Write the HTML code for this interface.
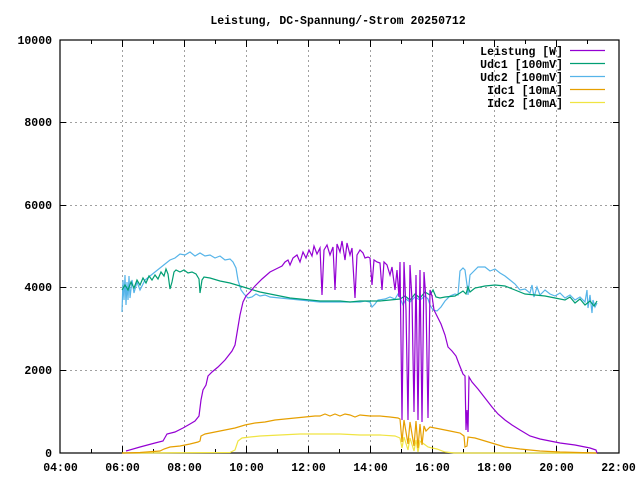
<!DOCTYPE html>
<html><head><meta charset="utf-8"><style>
html,body{margin:0;padding:0;background:#fff;}
svg{display:block;}
text{font-family:"Liberation Mono","DejaVu Sans Mono",monospace;font-size:11.5px;font-weight:bold;fill:#000;}
</style></head><body>
<svg width="640" height="480" viewBox="0 0 640 480" xmlns="http://www.w3.org/2000/svg">
<rect width="640" height="480" fill="#fff"/>
<g stroke="#a0a0a0" stroke-width="1" stroke-dasharray="2,3">
<line x1="122.5" y1="40" x2="122.5" y2="453"/>
<line x1="184.5" y1="40" x2="184.5" y2="453"/>
<line x1="246.5" y1="40" x2="246.5" y2="453"/>
<line x1="308.5" y1="40" x2="308.5" y2="453"/>
<line x1="370.5" y1="40" x2="370.5" y2="453"/>
<line x1="432.5" y1="40" x2="432.5" y2="453"/>
<line x1="494.5" y1="40" x2="494.5" y2="453"/>
<line x1="556.5" y1="40" x2="556.5" y2="453"/>
<line x1="60" y1="370.5" x2="619" y2="370.5"/>
<line x1="60" y1="287.5" x2="619" y2="287.5"/>
<line x1="60" y1="205.5" x2="619" y2="205.5"/>
<line x1="60" y1="122.5" x2="619" y2="122.5"/>
</g>
<g stroke="#000" stroke-width="1">
<path d="M60,370.5h6M60,287.5h6M60,205.5h6M60,122.5h6M619,370.5h-6M619,287.5h-6M619,205.5h-6M619,122.5h-6"/>
<path d="M91.5,453v-4M122.5,453v-7M153.5,453v-4M184.5,453v-7M215.5,453v-4M246.5,453v-7M277.5,453v-4M308.5,453v-7M339.5,453v-4M370.5,453v-7M401.5,453v-4M432.5,453v-7M463.5,453v-4M494.5,453v-7M525.5,453v-4M556.5,453v-7M587.5,453v-4"/>
<path d="M91.5,40v4M122.5,40v7M153.5,40v4M184.5,40v7M215.5,40v4M246.5,40v7M277.5,40v4M308.5,40v7M339.5,40v4M370.5,40v7M401.5,40v4M432.5,40v7M463.5,40v4M494.5,40v7M525.5,40v4M556.5,40v7M587.5,40v4"/>
</g>
<rect x="60" y="40" width="559" height="413" fill="none" stroke="#000" stroke-width="1.2"/>
<text x="338" y="24" text-anchor="middle">Leistung, DC-Spannung/-Strom 20250712</text>
<g text-anchor="end">
<text x="52" y="457">0</text>
<text x="52" y="374">2000</text>
<text x="52" y="291">4000</text>
<text x="52" y="209">6000</text>
<text x="52" y="126">8000</text>
<text x="52" y="44">10000</text>
</g>
<g text-anchor="middle">
<text x="60.5" y="471">04:00</text>
<text x="122.5" y="471">06:00</text>
<text x="184.5" y="471">08:00</text>
<text x="246.5" y="471">10:00</text>
<text x="308.5" y="471">12:00</text>
<text x="370.5" y="471">14:00</text>
<text x="432.5" y="471">16:00</text>
<text x="494.5" y="471">18:00</text>
<text x="556.5" y="471">20:00</text>
<text x="618.5" y="471">22:00</text>
</g>
<g text-anchor="end">
<text x="563" y="55">Leistung [W]</text>
<text x="563" y="68">Udc1 [100mV]</text>
<text x="563" y="81">Udc2 [100mV]</text>
<text x="563" y="94">Idc1 [10mA]</text>
<text x="563" y="107">Idc2 [10mA]</text>
</g>
<g stroke-width="1.2" fill="none">
<line x1="570" y1="50.5" x2="605" y2="50.5" stroke="#9400d3"/>
<line x1="570" y1="63.5" x2="605" y2="63.5" stroke="#009e73"/>
<line x1="570" y1="76.5" x2="605" y2="76.5" stroke="#56b4e9"/>
<line x1="570" y1="89.5" x2="605" y2="89.5" stroke="#e69f00"/>
<line x1="570" y1="102.5" x2="605" y2="102.5" stroke="#f0e442"/>
<path stroke="#f0e442" d="M122,453 L230,452.5 L235,450 L238,441 L242,438 L250,437 L260,436 L280,435 L300,434 L320,434 L340,434 L360,435 L380,435 L395,436 L400,438 L402,448 L404,437 L408,450 L410,438 L414,451 L416,440 L418,452 L420,441 L424,444 L428,447 L432,448 L437,449 L445,452 L455,453 L597,453"/>
<path stroke="#e69f00" d="M122,453 L140,452.5 L160,451 L164,449 L170,447 L180,446 L190,444 L198,442 L200,441 L201,436 L205,434 L215,432 L225,430 L235,428 L245,425 L255,423 L265,422 L275,420 L285,419 L295,418 L305,417 L315,416 L320,416 L325,414 L330,416 L335,414 L340,416 L345,414 L350,415 L355,417 L360,415 L370,416 L380,416 L390,417 L398,418 L400,419 L402,442 L404,420 L408,444 L410,422 L414,446 L416,421 L418,448 L420,424 L422,445 L424,426 L426,431 L430,427 L440,429 L450,431 L460,433 L464,436 L465,447 L467,446 L468,437 L475,438 L485,441 L495,444 L505,447 L520,449 L540,451 L560,452 L597,453"/>
<path stroke="#56b4e9" d="M122,312 L123,280 L124,300 L125,275 L126,305 L127,282 L128,300 L129,276 L130,298 L132,280 L134,293 L137,282 L140,290 L145,280 L150,276 L155,272 L160,268 L165,264 L170,260 L175,258 L180,254 L185,255 L190,252 L195,256 L200,253 L205,256 L210,255 L215,258 L220,256 L225,260 L230,259 L233,262 L236,268 L238,280 L241,290 L244,294 L248,298 L252,297 L256,294 L260,296 L265,295 L270,297 L280,298 L290,299 L300,300 L310,301 L320,302 L330,302 L340,302 L350,302 L360,302 L365,301 L370,302 L372,307 L375,304 L378,300 L385,299 L390,297 L395,299 L398,294 L400,298 L403,305 L406,299 L410,302 L415,297 L420,300 L425,296 L428,299 L430,305 L433,310 L437,311 L441,307 L445,301 L450,296 L455,294 L458,295 L460,271 L463,268 L465,270 L467,285 L468,295 L470,275 L473,272 L478,267 L485,267 L490,271 L495,269 L500,273 L505,276 L510,280 L515,284 L520,290 L525,289 L530,293 L532,285 L534,297 L537,287 L540,295 L545,290 L550,294 L555,296 L560,293 L565,298 L570,295 L575,300 L580,297 L585,302 L587,290 L588,308 L590,295 L592,313 L593,300 L595,307 L597,303"/>
<path stroke="#009e73" d="M122,290 L125,285 L128,290 L131,282 L134,288 L137,280 L140,285 L143,278 L146,283 L149,276 L152,280 L155,275 L158,279 L161,272 L164,276 L166,269 L168,274 L170,289 L172,282 L174,272 L176,270 L180,272 L184,270 L188,273 L192,272 L196,274 L199,279 L200,293 L202,280 L204,277 L210,278 L220,281 L230,283 L240,286 L250,289 L260,292 L270,294 L280,296 L290,298 L300,299 L310,300 L320,301 L330,301 L340,301 L350,302 L360,301 L370,301 L380,301 L390,300 L400,299 L405,296 L410,300 L415,294 L420,298 L425,292 L430,295 L433,290 L436,297 L440,298 L445,297 L455,296 L460,293 L463,291 L466,294 L468,287 L470,292 L475,288 L485,286 L495,285 L505,286 L515,290 L525,294 L535,295 L545,296 L555,298 L565,300 L570,297 L575,303 L580,299 L585,305 L590,301 L594,306 L597,301"/>
<path stroke="#9400d3" d="M126,451 L140,447 L155,443 L163,441 L167,434 L175,432 L183,428 L190,424 L195,421 L199,416 L201,400 L203,390 L206,385 L208,376 L212,372 L218,367 L225,360 L232,351 L235,345 L237,333 L240,315 L243,302 L246,296 L250,292 L255,286 L262,279 L270,272 L278,268 L282,266 L285,262 L288,260 L290,265 L293,258 L297,255 L300,262 L303,252 L306,258 L309,250 L312,256 L314,246 L317,254 L320,248 L322,295 L324,250 L327,245 L330,255 L333,247 L335,290 L337,244 L340,252 L342,241 L345,260 L347,243 L350,255 L352,248 L355,298 L357,255 L360,250 L363,253 L365,258 L368,257 L370,258 L372,285 L374,260 L377,262 L380,263 L382,290 L384,262 L387,265 L390,275 L392,267 L395,290 L397,270 L399,297 L400,262 L402,420 L404,262 L406,310 L408,420 L410,265 L412,300 L414,412 L416,275 L418,420 L420,270 L422,422 L424,272 L426,300 L428,418 L430,290 L432,296 L434,310 L437,316 L441,324 L445,335 L448,347 L452,351 L456,356 L459,364 L463,374 L465,376 L466,430 L467,410 L468,432 L469,377 L472,382 L478,389 L485,398 L492,407 L498,414 L505,420 L512,425 L520,430 L530,436 L540,439 L550,441 L560,443 L575,445 L590,448 L596,450 L597,453"/>
</g>
</svg>
</body></html>
